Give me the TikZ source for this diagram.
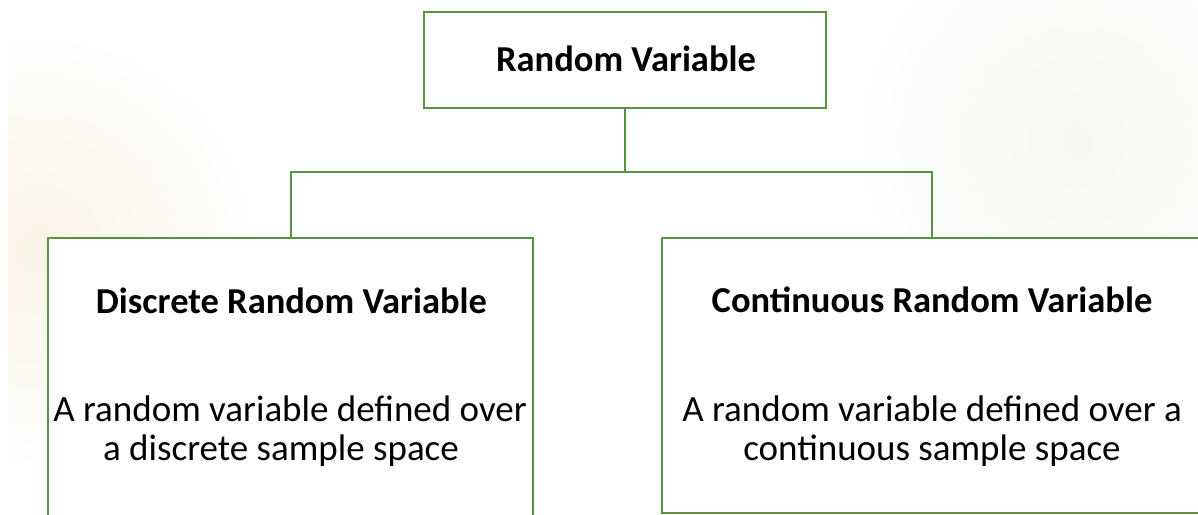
\documentclass[tikz,border=0pt]{standalone}
\usepackage{fontspec}
\setmainfont{Carlito}
\definecolor{edgegreen}{RGB}{84,150,62}
\definecolor{glowL}{RGB}{250,243,229}
\definecolor{glowR}{RGB}{244,248,240}
\tikzset{
  box/.style={draw=edgegreen, line width=2pt, fill=white, rectangle, inner sep=0pt},
  conn/.style={draw=edgegreen, line width=2pt},
  ttl/.style={anchor=base, font=\bfseries\fontsize{36.5}{42}\selectfont},
  body/.style={anchor=base, align=center, font=\fontsize{37}{39}\selectfont}
}
\begin{document}
\begin{tikzpicture}[x=1pt,y=-1pt]
\useasboundingbox (0,0) rectangle (1198,514);
\clip (0,0) rectangle (1198,514);
\begin{scope}
  \clip (8,0) rectangle (700,514);
  \shade[inner color=glowL, outer color=white] (40,250) circle (220pt);
\end{scope}
\shade[inner color=glowR, outer color=white] (1077,140) circle (230pt);
% boxes
\node[box, minimum width=402pt, minimum height=96pt] (top) at (625,60) {};
\node[box, minimum width=485pt, minimum height=340pt] (left) at (290.5,408) {};
\node[box, minimum width=540pt, minimum height=275pt] (right) at (932,375.5) {};
% connectors
\coordinate (j) at (625,172);
\draw[conn] (top.south) -- (j);
\draw[conn] (left.north) |- (j) -| (right.north);
% texts
\node[ttl] (t0) at (626,71) {Random Variable};
\node[ttl] (t1) at (291.5,313) {Discrete Random Variable};
\node[ttl] (t2) at (932,312) {Continuous Random Variable};
\node[body] (b1) at (290,460) {A random variable defined over\\a discrete sample space\hspace*{18pt}};
\node[body] (b2) at (932,460) {A random variable defined over a\\continuous sample space};
\end{tikzpicture}
\end{document}
